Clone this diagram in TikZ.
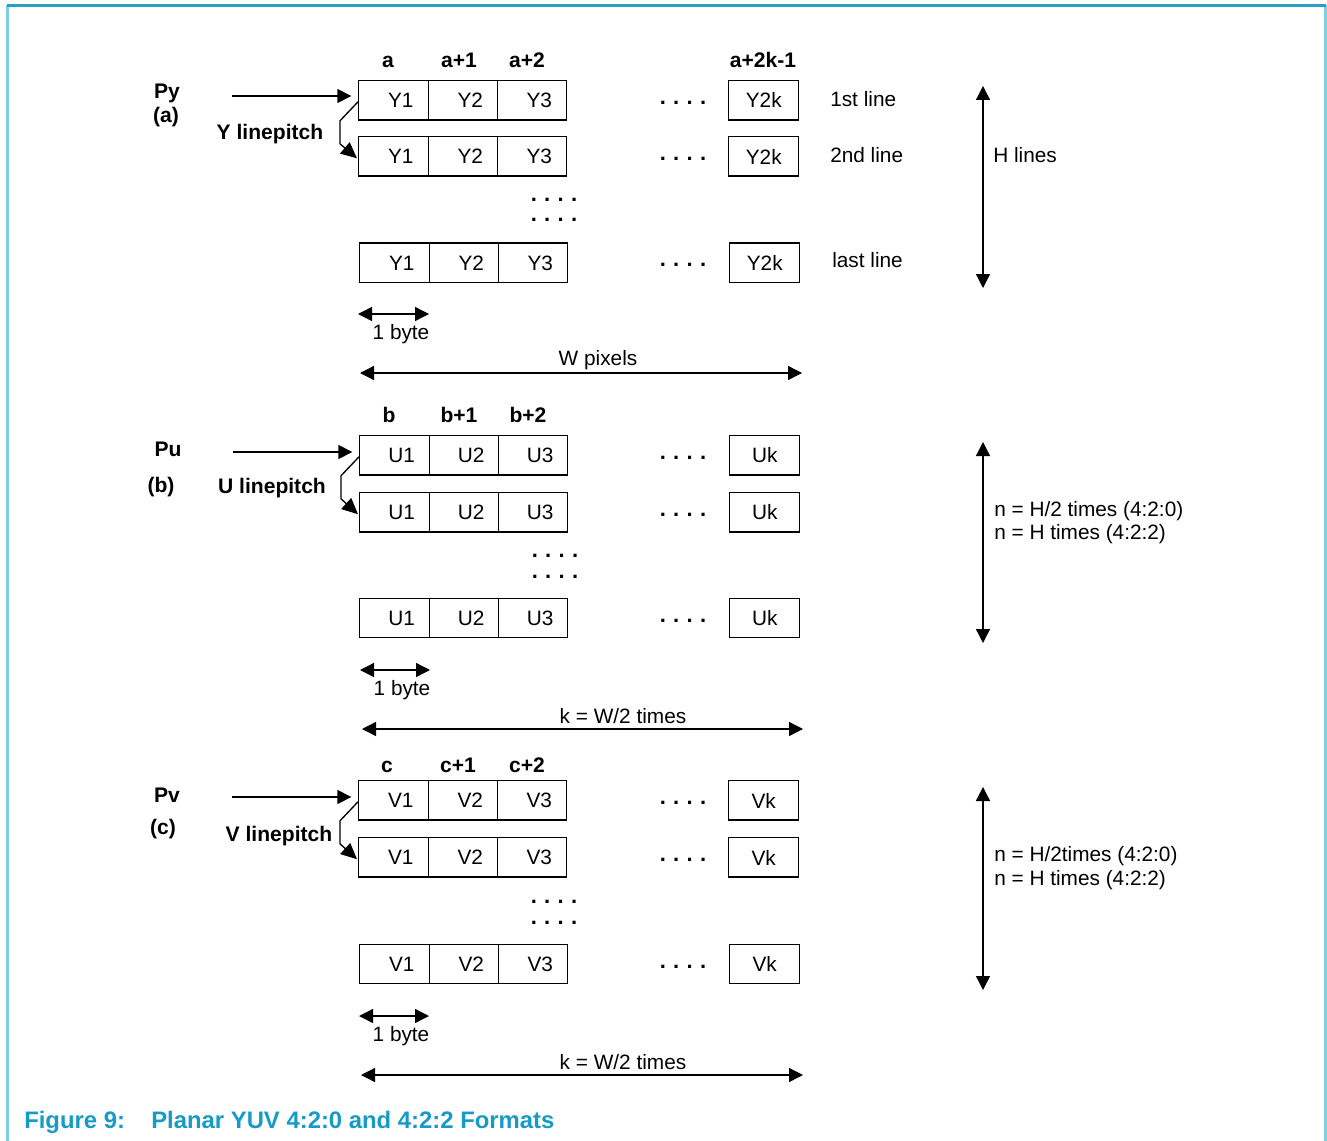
\documentclass[tikz,border=0pt]{standalone}
\usepackage{fontspec}
\setmainfont{Liberation Sans}
\usetikzlibrary{arrows.meta}
\definecolor{capblue}{RGB}{22,155,200}
\definecolor{topline}{RGB}{40,160,195}
\definecolor{sideline}{RGB}{125,208,228}
\tikzset{
  txt/.style={font=\fontsize{15.6pt}{18pt}\selectfont, inner sep=0pt},
  btxt/.style={font=\fontsize{15.8pt}{18pt}\selectfont\bfseries, inner sep=0pt},
  coltxt/.style={btxt, anchor=base},
  captxt/.style={font=\fontsize{17.9pt}{20pt}\selectfont\bfseries, text=capblue, inner sep=0pt, anchor=base west},
  cell/.style={draw, line width=1.1pt, anchor=north west, minimum height=29.6pt, inner sep=0pt,
     font=\fontsize{15.6pt}{18pt}\selectfont},
  tip/.style={-{Triangle[length=10.5pt,width=10.5pt]}},
  ltip/.style={-{Triangle[length=12pt,width=11pt]}},
  dtip/.style={{Triangle[length=10.5pt,width=10.5pt]}-{Triangle[length=10.5pt,width=10.5pt]}},
  conn/.style={line width=1pt},
  dots/.style={font=\fontsize{16.5pt}{18pt}\selectfont\bfseries, inner sep=0pt, anchor=base},
}
\newcommand\cellrow[5]{%
  \node[cell, minimum width=52.5pt] (#1-1) at (#2,#3) {\hspace*{10.5pt}#41};
  \node[cell, minimum width=51.75pt] (#1-2) at (#2+70,#3) {\hspace*{10.5pt}#42};
  \node[cell, minimum width=51.75pt] (#1-3) at (#2+139,#3) {\hspace*{10.5pt}#43};
  \node[cell, minimum width=52.5pt] (#1-k) at (#2+370,#3) {#5};
  \node[dots] (#1-d) at (683,#3+24.5) {.\,\,.\,\,.\,\,.};
}
\begin{document}
\begin{tikzpicture}[x=0.75pt,y=-0.75pt]
\useasboundingbox (0,0) rectangle (1327,1141);
% frame
\draw[sideline, line width=1.6pt] (7.5,5) -- (7.5,1141);
\draw[sideline, line width=1.6pt] (1325.5,5) -- (1325.5,1141);
\draw[topline, line width=1.6pt] (7,5.5) -- (1326,5.5);

% ===== (a) =====
\node[coltxt] (ca0) at (388,68) {a};
\node[coltxt] (ca1) at (459,68) {a+1};
\node[coltxt] (ca2) at (527,68) {a+2};
\node[coltxt] (ca3) at (763,68) {a+2k-1};
\node[btxt] (py) at (167,93) {Py};
\node[btxt] (pya) at (166,117) {(a)};
\node[btxt] (ylp) at (270,134) {Y linepitch};
\cellrow{a1}{358}{80}{Y}{Y2k}
\cellrow{a2}{358}{136}{Y}{Y2k}
\cellrow{a3}{359}{242.5}{Y}{Y2k}
\node[dots] (avd1) at (554,201.5) {.\,\,.\,\,.\,\,.};
\node[dots] (avd2) at (554,222) {.\,\,.\,\,.\,\,.};
\node[txt, anchor=west] (l1) at (830,99) {1st line};
\node[txt, anchor=west] (l2) at (830,155) {2nd line};
\node[txt, anchor=west] (l3) at (832,260) {last line};
\coordinate (pya0) at (232,96);
\draw[conn, tip, shorten >=5pt] (pya0) -- (a1-1.west |- pya0);
\draw[conn, ltip, shorten >=1pt] ([yshift=-1pt]a1-1.west) -- ++(-18,19) -- ++(0,23) -- ([yshift=-2pt]a2-1.west);
\coordinate (ha0) at (983,86);
\coordinate (ha1) at (983,288);
\draw[conn, dtip] (ha0) -- (ha1);
\node[txt, anchor=west] (hl) at (993,155) {H lines};
\coordinate (ba0) at (358,314);
\coordinate (ba1) at (429,314);
\draw[conn, dtip] (ba0) -- (ba1);
\node[txt] (bal) at (401,334) {1 byte};
\coordinate (wa0) at (360,373);
\coordinate (wa1) at (802,373);
\draw[conn, dtip] (wa0) -- (wa1);
\node[txt] (wal) at (598,360) {W pixels};

% ===== (b) =====
\node[coltxt] (cb0) at (389,422) {b};
\node[coltxt] (cb1) at (459,422) {b+1};
\node[coltxt] (cb2) at (528,422) {b+2};
\node[btxt] (pu) at (168,449) {Pu};
\node[btxt] (pub) at (161,487) {(b)};
\node[btxt] (ulp) at (272,488) {U linepitch};
\cellrow{b1}{359}{435}{U}{Uk}
\cellrow{b2}{359}{492}{U}{Uk}
\cellrow{b3}{359}{597.5}{U}{Uk}
\node[dots] (bvd1) at (555,557.5) {.\,\,.\,\,.\,\,.};
\node[dots] (bvd2) at (555,578) {.\,\,.\,\,.\,\,.};
\coordinate (pub0) at (233,452);
\draw[conn, tip, shorten >=5pt] (pub0) -- (b1-1.west |- pub0);
\draw[conn, ltip, shorten >=1pt] ([yshift=-1pt]b1-1.west) -- ++(-18,19) -- ++(0,23) -- ([yshift=-2pt]b2-1.west);
\coordinate (hb0) at (983,442);
\coordinate (hb1) at (983,643);
\draw[conn, dtip] (hb0) -- (hb1);
\node[txt, anchor=west] (nb1) at (994,511) {n = H/2 times (4:2:0)};
\node[txt, anchor=west] (nb2) at (994,534) {n = H times (4:2:2)};
\coordinate (bb0) at (360,670);
\coordinate (bb1) at (430,670);
\draw[conn, dtip] (bb0) -- (bb1);
\node[txt] (bbl) at (402,690) {1 byte};
\coordinate (kb0) at (362,729);
\coordinate (kb1) at (803,729);
\draw[conn, dtip] (kb0) -- (kb1);
\node[txt] (kbl) at (623,716) {k = W/2 times};

% ===== (c) =====
\node[coltxt] (cc0) at (387,772) {c};
\node[coltxt] (cc1) at (458,772) {c+1};
\node[coltxt] (cc2) at (527,772) {c+2};
\node[btxt] (pv) at (167,795) {Pv};
\node[btxt] (pvc) at (163,829) {(c)};
\node[btxt] (vlp) at (279,836) {V linepitch};
\cellrow{c1}{358}{780}{V}{Vk}
\cellrow{c2}{358}{837}{V}{Vk}
\cellrow{c3}{359}{943.5}{V}{Vk}
\node[dots] (cvd1) at (554,903.5) {.\,\,.\,\,.\,\,.};
\node[dots] (cvd2) at (554,924) {.\,\,.\,\,.\,\,.};
\coordinate (pvc0) at (232,797);
\draw[conn, tip, shorten >=5pt] (pvc0) -- (c1-1.west |- pvc0);
\draw[conn, ltip, shorten >=1pt] ([yshift=-1pt]c1-1.west) -- ++(-18,19) -- ++(0,23) -- ([yshift=-2pt]c2-1.west);
\coordinate (hc0) at (983,787);
\coordinate (hc1) at (983,990);
\draw[conn, dtip] (hc0) -- (hc1);
\node[txt, anchor=west] (nc1) at (994,856) {n = H/2times (4:2:0)};
\node[txt, anchor=west] (nc2) at (994,880) {n = H times (4:2:2)};
\coordinate (bc0) at (359,1016);
\coordinate (bc1) at (429,1016);
\draw[conn, dtip] (bc0) -- (bc1);
\node[txt] (bcl) at (401,1036) {1 byte};
\coordinate (kc0) at (361,1075);
\coordinate (kc1) at (803,1075);
\draw[conn, dtip] (kc0) -- (kc1);
\node[txt] (kcl) at (623,1062) {k = W/2 times};

% caption
\node[captxt] (fig) at (24,1128.5) {Figure 9:};
\node[captxt] (cap) at (151,1128.5) {Planar YUV 4:2:0 and 4:2:2 Formats};
\end{tikzpicture}
\end{document}
